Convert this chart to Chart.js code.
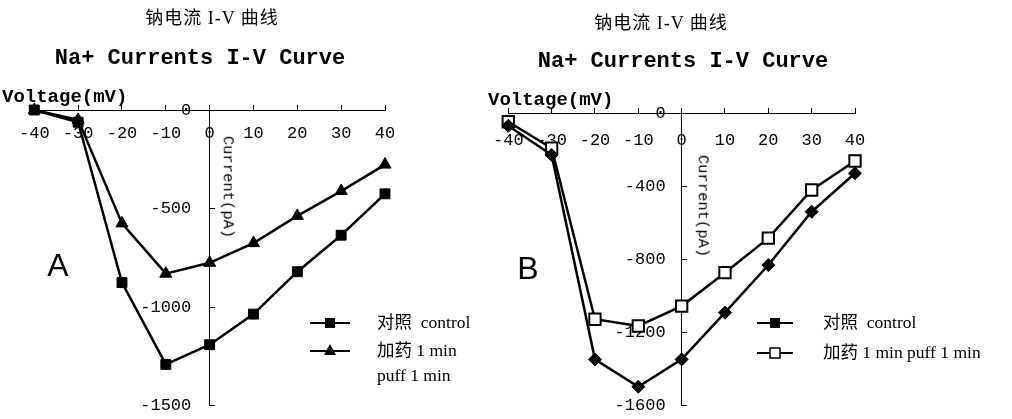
<!DOCTYPE html>
<html><head><meta charset="utf-8">
<script src="https://cdn.jsdelivr.net/npm/chart.js@4/dist/chart.umd.min.js"></script>
<style>
html,body{margin:0;padding:0;background:#fff;width:1012px;height:419px;overflow:hidden;position:relative}
.t{position:absolute;white-space:nowrap;color:#000;line-height:1}
.c{transform:translate(-50%,-50%)}
.l{transform:translate(0,-50%)}
.cn{font-family:"Liberation Serif","Noto Sans CJK SC",serif;font-size:18px;letter-spacing:1px}
.en{font-family:"Liberation Mono",monospace;font-weight:bold;font-size:22px}
.vt{font-family:"Liberation Mono",monospace;font-weight:bold;font-size:19px}
.cu{font-family:"Liberation Mono",monospace;font-size:15.5px;transform:translate(-50%,-50%) rotate(90deg)}
.lg{font-family:"Liberation Serif","Noto Sans CJK SC",serif;font-size:17.5px}
.pl{font-family:"Liberation Sans",sans-serif;font-size:32px}
canvas{position:absolute;top:0}
svg{position:absolute}
</style></head><body>
<canvas id="cA" width="506" height="419" style="left:0"></canvas>
<canvas id="cB" width="542" height="419" style="left:470px"></canvas>

<div class="t c cn" style="left:212px;top:18px">钠电流 I-V 曲线</div>
<div class="t c en" style="left:200px;top:59px">Na+ Currents I-V Curve</div>
<div class="t l vt" style="left:2px;top:97px">Voltage(mV)</div>
<div class="t cu" style="left:227px;top:187px">Current(pA)</div>
<div class="t c pl" style="left:58px;top:265px">A</div>

<div class="t c cn" style="left:661px;top:23px">钠电流 I-V 曲线</div>
<div class="t c en" style="left:683px;top:62px">Na+ Currents I-V Curve</div>
<div class="t l vt" style="left:488px;top:100px">Voltage(mV)</div>
<div class="t cu" style="left:702px;top:206px">Current(pA)</div>
<div class="t c pl" style="left:528px;top:268px">B</div>

<!-- legend A -->
<svg style="left:308px;top:314px" width="44" height="18"><line x1="2" y1="9" x2="42" y2="9" stroke="#000" stroke-width="2"/><rect x="17" y="4" width="10" height="10" fill="#000"/></svg>
<div class="t l lg" style="left:377px;top:323px">对照&nbsp; control</div>
<svg style="left:308px;top:342px" width="44" height="18"><line x1="2" y1="9" x2="42" y2="9" stroke="#000" stroke-width="2"/><polygon points="22,2 28,13 16,13" fill="#000"/></svg>
<div class="t l lg" style="left:377px;top:351px">加药 1 min</div>
<div class="t l lg" style="left:377px;top:376px">puff 1 min</div>

<!-- legend B -->
<svg style="left:755px;top:314px" width="40" height="18"><line x1="2" y1="9" x2="38" y2="9" stroke="#000" stroke-width="2"/><rect x="15" y="4" width="10" height="10" fill="#000"/></svg>
<div class="t l lg" style="left:823px;top:323px">对照&nbsp; control</div>
<svg style="left:755px;top:344px" width="40" height="18"><line x1="2" y1="9" x2="38" y2="9" stroke="#000" stroke-width="2"/><rect x="15" y="4" width="10" height="10" fill="#fff" stroke="#000" stroke-width="1.5"/></svg>
<div class="t l lg" style="left:823px;top:353px">加药 1 min puff 1 min</div>

<script>
// ---- data ----
const voltages = [-40, -30, -20, -10, 0, 10, 20, 30, 40];
const controlA = [0, -62, -875, -1290, -1190, -1035, -820, -635, -425];
const puffA    = [0, -50, -575, -830, -775, -675, -537, -411, -277];
const controlB = [-70, -230, -1350, -1500, -1350, -1094, -833, -541, -330];
const puffB    = [-48, -193, -1130, -1167, -1058, -875, -686, -422, -263];
const xTickValues = [-40, -30, -20, -10, 0, 10, 20, 30, 40];
const yTicksA = [0, -500, -1000, -1500];
const yTicksB = [0, -400, -800, -1200, -1600];
const seriesNames = ['对照 control', '加药 1 min puff 1 min'];

const TICK_FONT = {family: 'Liberation Mono', size: 17};

function pts(ys) { return voltages.map((v, i) => ({x: v, y: ys[i]})); }
function zeroH(s) { s.height = 0; }
function zeroW(s) { s.width = 0; }
function setTicks(arr) { return s => { s.ticks = arr.map(v => ({value: v})); }; }

function makeChart(id, cfg) {
  const ds = cfg.series.map((s, i) => Object.assign({
    label: seriesNames[i],
    data: pts(s.values),
    borderColor: '#000',
    borderWidth: 2.5,
    tension: 0,
    fill: false,
    clip: false,
    pointBorderColor: '#000'
  }, s.style));
  return new Chart(document.getElementById(id), {
    type: 'line',
    data: {datasets: ds},
    options: {
      responsive: false,
      animation: false,
      layout: {autoPadding: false, padding: cfg.padding},
      plugins: {legend: {display: false}, tooltip: {enabled: false}, title: {display: false}},
      scales: {
        x: {
          type: 'linear', min: -40, max: 40,
          position: {y: 0},
          afterFit: zeroH,
          afterBuildTicks: setTicks(xTickValues),
          ticks: {font: TICK_FONT, color: '#000', padding: cfg.xPad, maxRotation: 0, autoSkip: false,
                  callback: v => String(v)},
          grid: {drawOnChartArea: false, drawTicks: true, tickLength: -6, color: '#000', lineWidth: 1},
          border: {display: true, color: '#000', width: 1}
        },
        y: {
          type: 'linear', min: cfg.yMin, max: 0,
          position: {x: 0},
          afterFit: zeroW,
          afterBuildTicks: setTicks(cfg.yTicks),
          ticks: {display: false},
          grid: {drawOnChartArea: false, drawTicks: true, tickLength: -6, color: '#000', lineWidth: 1},
          border: {display: true, color: '#000', width: 1}
        },
        ylab: {
          type: 'linear', axis: 'y', min: cfg.yMin, max: 0,
          position: {x: cfg.labelOffset},
          afterFit: zeroW,
          afterBuildTicks: setTicks(cfg.yTicks),
          ticks: {font: TICK_FONT, color: '#000', callback: v => String(v)},
          grid: {display: false},
          border: {display: false}
        }
      }
    }
  });
}

makeChart('cA', {
  padding: {left: 22, right: 121, top: 110, bottom: 12},
  xPad: 19, yMin: -1500, yTicks: yTicksA, labelOffset: -4.2,
  series: [
    {values: controlA, style: {pointStyle: 'rect', pointRadius: 7, pointBackgroundColor: '#000', pointBorderWidth: 1}},
    {values: puffA, style: {pointStyle: 'triangle', pointRadius: 7, pointBackgroundColor: '#000', pointBorderWidth: 1}}
  ]
});

makeChart('cB', {
  padding: {left: 35, right: 157, top: 113, bottom: 14},
  xPad: 23, yMin: -1600, yTicks: yTicksB, labelOffset: -3.7,
  series: [
    {values: controlB, style: {pointStyle: 'rectRot', pointRadius: 6.5, pointBackgroundColor: '#000', pointBorderWidth: 1}},
    {values: puffB, style: {pointStyle: 'rect', pointRadius: 8, pointBackgroundColor: '#fff', pointBorderWidth: 2}}
  ]
});
</script>
</body></html>
